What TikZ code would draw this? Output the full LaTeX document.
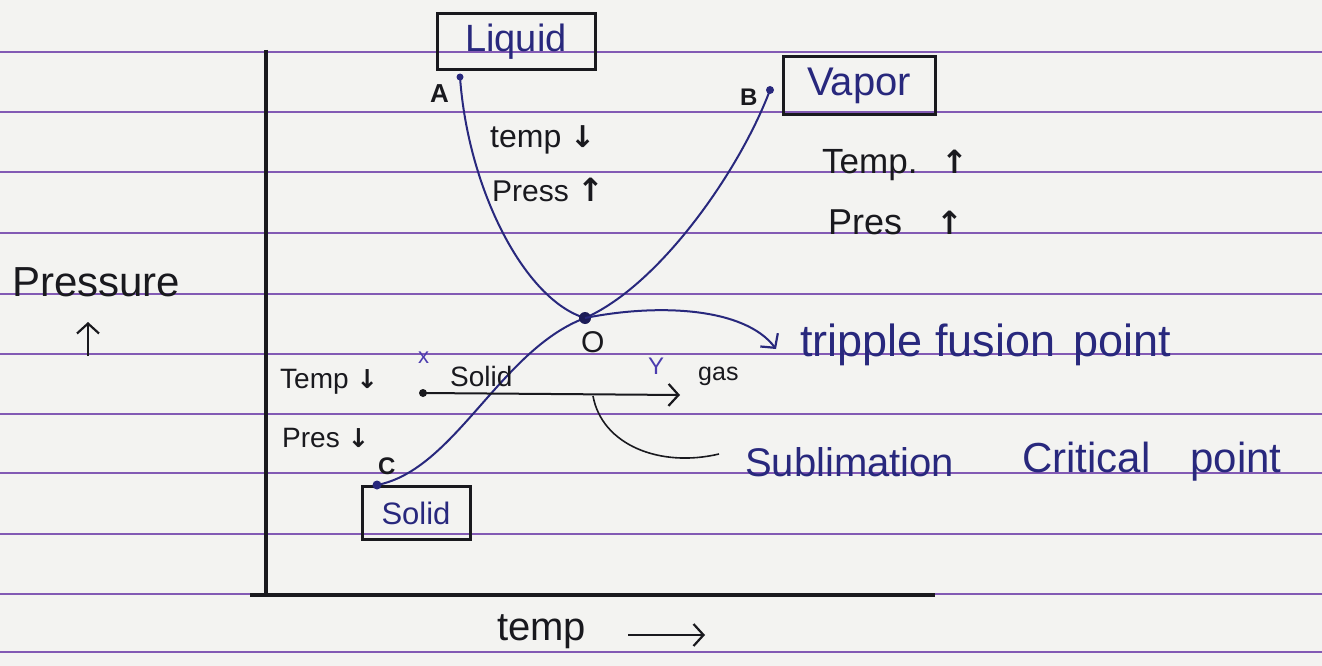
\documentclass[tikz,border=0pt]{standalone}
\usepackage{fontspec}
\setmainfont{Liberation Sans}
\newfontfamily\arrowfont{DejaVu Sans}
\usetikzlibrary{arrows.meta}
\definecolor{ink}{RGB}{25,25,30}
\definecolor{pen}{RGB}{40,40,125}
\definecolor{rulecol}{RGB}{130,90,180}
\definecolor{paper}{RGB}{243,243,241}
\definecolor{xpen}{RGB}{75,60,175}
\newcommand\fsz[1]{\fontsize{#1}{#1}\selectfont}
\newcommand\dnarr[1]{{\arrowfont\bfseries\fsz{#1}↓}}
\newcommand\uparr[1]{{\arrowfont\bfseries\fsz{#1}↑}}
\begin{document}
\begin{tikzpicture}[x=1pt,y=-1pt,
  lbl/.style={inner sep=0pt, text=ink, anchor=west},
  penlbl/.style={inner sep=0pt, text=pen, anchor=west},
  box/.style={draw=ink, line width=3pt, inner sep=0pt, text=pen},
  curve/.style={draw=pen, line width=2pt},
  axis/.style={draw=ink, line width=3.5pt},
  chev/.style={-{Straight Barb[length=10pt,width=22pt,line width=2.2pt]}},
  dot/.style={fill=pen}
]
\fill[paper] (0,0) rectangle (1322,666);
\useasboundingbox (0,0) rectangle (1322,666);
\foreach \y in {52,112,172,233,294,354,414,473,534,594,652}
  \draw[rulecol, line width=1.4pt] (0,\y) -- (1322,\y);

% axes
\coordinate (ytop) at (266,50);
\coordinate (ybot) at (266,596);
\coordinate (xbeg) at (250,595);
\coordinate (xend) at (935,595);
\draw[axis] (ytop) -- (ybot);
\draw[axis] (xbeg) -- (xend);

% boxes
\node[box, minimum width=158pt, minimum height=56pt] (liq) at (516,42) {\fsz{38}Liquid};
\node[box, minimum width=152pt, minimum height=58pt] (vap) at (859,86) {\fsz{40}Vapor};
\node[box, minimum width=108pt, minimum height=53pt] (sol) at (416,513) {\fsz{31}Solid};

% points
\coordinate (A) at (460,77);
\coordinate (B) at (770,90);
\coordinate (O) at (585,318);
\coordinate (C) at (377,485);
\coordinate (X) at (423,393);
\coordinate (Y) at (680,395);
\coordinate (S) at (593,396);

% curves
\draw[curve] (A) .. controls (468,190) and (525,300) .. (O);
\draw[curve] (B) .. controls (740,170) and (660,285) .. (O);
\draw[curve] (O) .. controls (500,350) and (455,470) .. (C);

\fill[dot] (A) circle (3.5pt);
\fill[dot] (B) circle (4pt);
\fill[pen!70!black] (O) circle (6pt);
\fill[dot] (C) circle (4.5pt);
\fill[ink] (X) circle (4pt);

\node[lbl, font=\bfseries] (la) at (430,94) {\fsz{26}A};
\node[lbl, font=\bfseries] (lb) at (740,97) {\fsz{24}B};
\node[lbl] (lo) at (581,342) {\fsz{30}O};
\node[lbl, font=\bfseries] (lc) at (378,466) {\fsz{24}C};

% labels
\node[lbl] (t1) at (490,140) {\fsz{32}temp \dnarr{30}};
\node[lbl] (p1) at (492,190) {\fsz{30}Press \uparr{32}};
\node[lbl] (t2) at (822,165) {\fsz{35}Temp.\hspace{24pt}\uparr{32}};
\node[lbl] (p2) at (828,222) {\fsz{36}Pres\hspace{34pt}\uparr{32}};
\node[lbl] (pr) at (12,282) {\fsz{42}Pressure};
\coordinate (prt) at (88,322);
\coordinate (prb) at (88,356);
\draw[ink, line width=2.4pt, chev] (prb) -- (prt);

\node[penlbl] (tri) at (800,345) {\fsz{45}tripple fusion\hspace{6pt} point};
\draw[curve, chev] (O) .. controls (660,303) and (745,308) .. ([xshift=-24pt,yshift=-4pt]tri.west);

\node[lbl] (t3) at (280,382) {\fsz{28}Temp \dnarr{26}};
\node[lbl] (p3) at (282,438) {\fsz{28}Pres \dnarr{26}};

\node[lbl] (solid2) at (450,376) {\fsz{28}Solid};
\node[lbl, text=xpen] (xl) at (418,358) {\fsz{22}x};
\node[lbl, text=xpen] (yl) at (648,366) {\fsz{24}Y};
\node[lbl] (gas) at (698,376) {\fsz{25}gas};
\draw[ink, line width=2pt, chev] (X) -- (Y);

\node[penlbl] (sub) at (745,462) {\fsz{40}Sublimation};
\node[penlbl] (crit) at (1022,462) {\fsz{42}Critical\hspace{40pt}point};
\draw[ink, line width=1.6pt] (S) .. controls (602,445) and (660,468) .. ([xshift=-26pt,yshift=8pt]sub.west);

\node[lbl] (tmp) at (497,632) {\fsz{40}temp};
\coordinate (ta) at (628,635);
\coordinate (tb) at (705,635);
\draw[ink, line width=2.4pt, chev] (ta) -- (tb);
\end{tikzpicture}
\end{document}
